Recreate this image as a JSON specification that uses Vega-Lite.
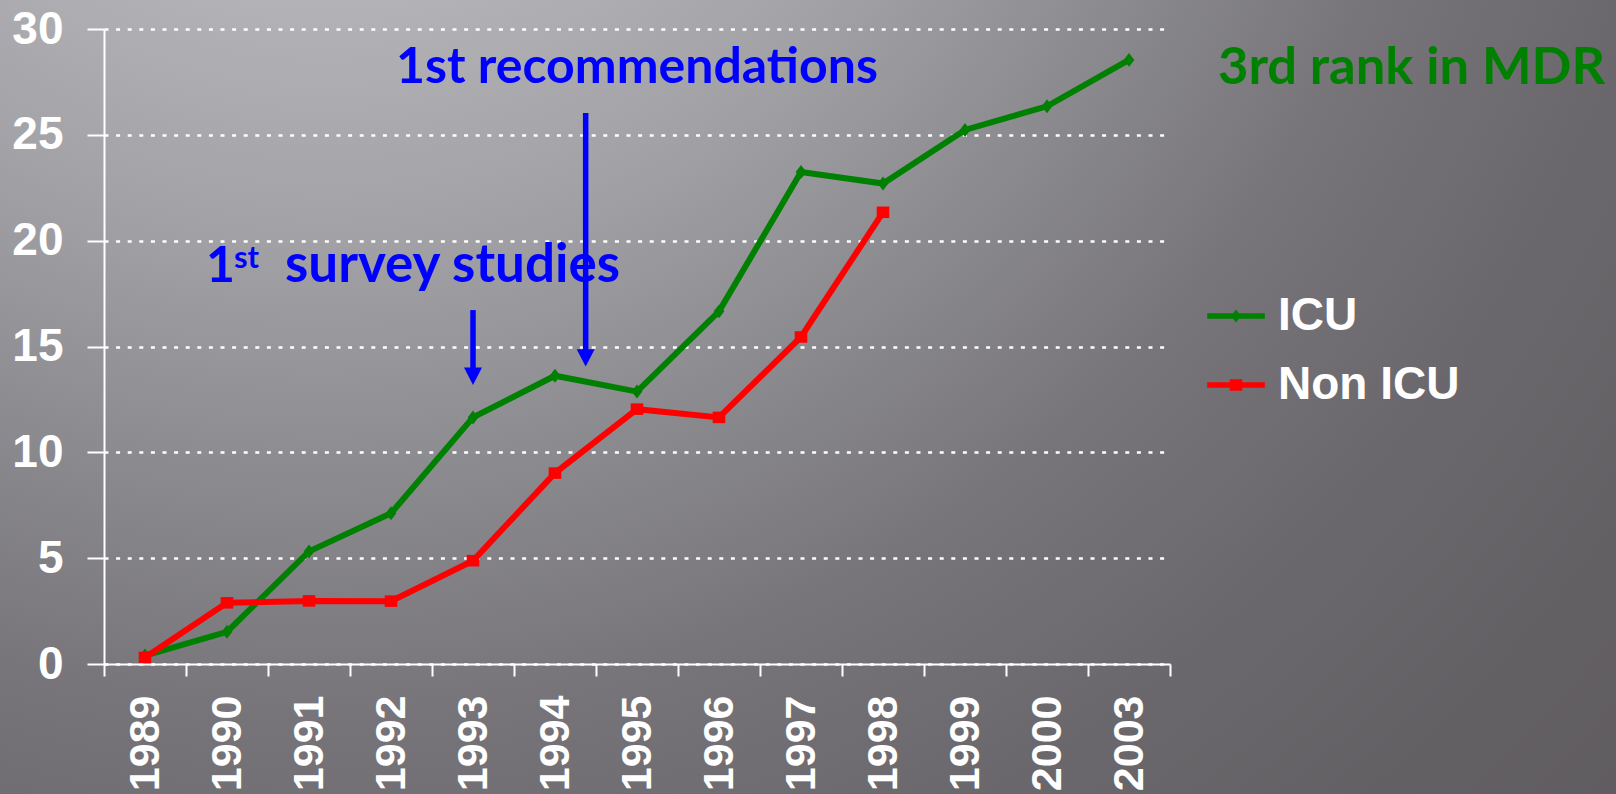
{
  "$schema": "https://vega.github.io/schema/vega-lite/v6.json",
  "width": 1616,
  "height": 794,
  "autosize": {"type": "none"},
  "padding": 0,
  "background": "#6f6c70",
  "view": {
    "stroke": null,
    "fill": {
      "gradient": "radial",
      "x1": 0.2, "y1": 0, "r1": 0,
      "x2": 0.2, "y2": 0, "r2": 1.3,
      "stops": [
        {"offset": 0, "color": "#bfbfc3"},
        {"offset": 0.19, "color": "#b4b4b8"},
        {"offset": 0.31, "color": "#a2a2a6"},
        {"offset": 0.42, "color": "#8c8b90"},
        {"offset": 0.54, "color": "#767479"},
        {"offset": 0.65, "color": "#6b686d"},
        {"offset": 0.77, "color": "#636064"},
        {"offset": 1, "color": "#595458"}
      ]
    }
  },
  "config": {
    "axis": {
      "domainColor": "white",
      "domainWidth": 2,
      "tickColor": "white",
      "tickWidth": 2,
      "labelColor": "white",
      "labelFont": "Liberation Sans",
      "labelFontWeight": "bold",
      "title": null
    }
  },
  "layer": [
    {
      "data": {
        "values": [
          {"year": "1989", "series": "ICU", "value": 0.40},
          {"year": "1990", "series": "ICU", "value": 1.52},
          {"year": "1991", "series": "ICU", "value": 5.32},
          {"year": "1992", "series": "ICU", "value": 7.12},
          {"year": "1993", "series": "ICU", "value": 11.65},
          {"year": "1994", "series": "ICU", "value": 13.62},
          {"year": "1995", "series": "ICU", "value": 12.87},
          {"year": "1996", "series": "ICU", "value": 16.66},
          {"year": "1997", "series": "ICU", "value": 23.24},
          {"year": "1998", "series": "ICU", "value": 22.70},
          {"year": "1999", "series": "ICU", "value": 25.23},
          {"year": "2000", "series": "ICU", "value": 26.35},
          {"year": "2003", "series": "ICU", "value": 28.54},
          {"year": "1989", "series": "Non ICU", "value": 0.31},
          {"year": "1990", "series": "Non ICU", "value": 2.89},
          {"year": "1991", "series": "Non ICU", "value": 2.98},
          {"year": "1992", "series": "Non ICU", "value": 2.97},
          {"year": "1993", "series": "Non ICU", "value": 4.88},
          {"year": "1994", "series": "Non ICU", "value": 9.02},
          {"year": "1995", "series": "Non ICU", "value": 12.04},
          {"year": "1996", "series": "Non ICU", "value": 11.65},
          {"year": "1997", "series": "Non ICU", "value": 15.45},
          {"year": "1998", "series": "Non ICU", "value": 21.34}
        ]
      },
      "encoding": {
        "x": {
          "field": "year",
          "type": "ordinal",
          "bandPosition": 0.5,
          "scale": {"type": "band", "range": [104, 1170], "paddingInner": 0, "paddingOuter": 0},
          "axis": {
            "orient": "bottom",
            "offset": -130,
            "tickBand": "extent",
            "tickSize": 12,
            "labelAngle": 270,
            "labelFontSize": 43,
            "labelPadding": 19,
            "labelOverlap": false,
            "grid": false
          }
        },
        "y": {
          "field": "value",
          "type": "quantitative",
          "scale": {"domain": [0, 30], "range": [664, 29], "nice": false},
          "axis": {
            "orient": "left",
            "offset": -104,
            "values": [0, 5, 10, 15, 20, 25, 30],
            "tickSize": 17,
            "labelFontSize": 46,
            "labelPadding": 24,
            "grid": true,
            "gridColor": "white",
            "gridWidth": 2.7,
            "gridDash": [4, 7.6],
            "gridOpacity": 1
          }
        },
        "color": {
          "field": "series",
          "type": "nominal",
          "scale": {"domain": ["ICU", "Non ICU"], "range": ["#008000", "#ff0000"]},
          "legend": {
            "title": null,
            "orient": "none",
            "legendX": 1206,
            "legendY": 286,
            "padding": 0,
            "rowPadding": 16,
            "symbolSize": 3600,
            "labelOffset": 12,
            "labelLimit": 500,
            "labelFont": "Liberation Sans",
            "labelFontWeight": "bold",
            "labelFontSize": 46,
            "labelColor": "white",
            "labelBaseline": "middle",
            "encode": {
              "symbols": {
                "update": {
                  "shape": {"signal": "datum.value === 'ICU' ? 'M -0.96 -0.09 L -0.098 -0.09 L 0 -0.217 L 0.098 -0.09 L 0.96 -0.09 L 0.96 0.09 L 0.098 0.09 L 0 0.217 L -0.098 0.09 L -0.96 0.09 Z' : 'M -0.96 -0.09 L -0.21 -0.09 L -0.21 -0.195 L 0.21 -0.195 L 0.21 -0.09 L 0.96 -0.09 L 0.96 0.09 L 0.21 0.09 L 0.21 0.195 L -0.21 0.195 L -0.21 0.09 L -0.96 0.09 Z'"},
                  "fill": {"signal": "datum.value === 'ICU' ? '#008000' : '#ff0000'"},
                  "stroke": {"value": "transparent"},
                  "strokeWidth": {"value": 0},
                  "opacity": {"value": 1},
                  "size": {"value": 3600}
                }
              }
            }
          }
        }
      },
      "layer": [
        {"mark": {"type": "line", "strokeWidth": 6}},
        {
          "transform": [{"filter": "datum.series === 'ICU'"}],
          "mark": {"type": "point", "filled": true, "opacity": 1, "size": 115, "shape": "M 0 -1.3 L 1 0 L 0 1.3 L -1 0 Z"}
        },
        {
          "transform": [{"filter": "datum.series === 'Non ICU'"}],
          "mark": {"type": "point", "filled": true, "opacity": 1, "size": 110, "shape": "M -1.2 -1.1 L 1.2 -1.1 L 1.2 1.1 L -1.2 1.1 Z"}
        }
      ]
    },
    {
      "data": {"values": [{"year": "1993", "top": 16.72, "shaftEnd": 13.95, "tip": 13.18}]},
      "layer": [
        {
          "mark": {"type": "rule", "color": "#0000ff", "strokeWidth": 5.5, "strokeCap": "butt"},
          "encoding": {
            "x": {"field": "year", "type": "ordinal", "bandPosition": 0.5},
            "y": {"field": "top", "type": "quantitative"},
            "y2": {"field": "shaftEnd"}
          }
        },
        {
          "mark": {"type": "point", "shape": "M -1 -1.94 L 1 -1.94 L 0 0 Z", "size": 324, "filled": true, "color": "#0000ff", "opacity": 1},
          "encoding": {
            "x": {"field": "year", "type": "ordinal", "bandPosition": 0.5},
            "y": {"field": "tip", "type": "quantitative"}
          }
        }
      ]
    },
    {
      "data": {"values": [{"year": "1994", "top": 26.03, "shaftEnd": 14.8, "tip": 14.05}]},
      "layer": [
        {
          "mark": {"type": "rule", "color": "#0000ff", "strokeWidth": 5.5, "strokeCap": "butt"},
          "encoding": {
            "x": {"field": "year", "type": "ordinal", "bandPosition": 0.874},
            "y": {"field": "top", "type": "quantitative"},
            "y2": {"field": "shaftEnd"}
          }
        },
        {
          "mark": {"type": "point", "shape": "M -1 -1.94 L 1 -1.94 L 0 0 Z", "size": 324, "filled": true, "color": "#0000ff", "opacity": 1},
          "encoding": {
            "x": {"field": "year", "type": "ordinal", "bandPosition": 0.874},
            "y": {"field": "tip", "type": "quantitative"}
          }
        }
      ]
    },
    {
      "data": {"values": [{"year": "1995", "value": 27.45, "label": "1st recommendations"}]},
      "mark": {"type": "text", "font": "Lato", "fontWeight": "bold", "fontSize": 50, "color": "#0000ff", "align": "center", "baseline": "alphabetic"},
      "encoding": {
        "x": {"field": "year", "type": "ordinal", "bandPosition": 0.5},
        "y": {"field": "value", "type": "quantitative"},
        "text": {"field": "label"}
      }
    },
    {
      "data": {"values": [{"year": "1990", "value": 18.05, "label": "1"}]},
      "mark": {"type": "text", "font": "Lato", "fontWeight": "bold", "fontSize": 50, "color": "#0000ff", "align": "left", "baseline": "alphabetic", "dx": -3},
      "encoding": {
        "x": {"field": "year", "type": "ordinal", "bandPosition": 0.28},
        "y": {"field": "value", "type": "quantitative"},
        "text": {"field": "label"}
      }
    },
    {
      "data": {"values": [{"year": "1990", "value": 18.05, "label": "st"}]},
      "mark": {"type": "text", "font": "Lato", "fontWeight": "bold", "fontSize": 31, "color": "#0000ff", "align": "left", "baseline": "alphabetic", "dx": 25, "dy": -14},
      "encoding": {
        "x": {"field": "year", "type": "ordinal", "bandPosition": 0.28},
        "y": {"field": "value", "type": "quantitative"},
        "text": {"field": "label"}
      }
    },
    {
      "data": {"values": [{"year": "1990", "value": 18.05, "label": "survey studies"}]},
      "mark": {"type": "text", "font": "Lato", "fontWeight": "bold", "fontSize": 53, "color": "#0000ff", "align": "left", "baseline": "alphabetic", "dx": 76},
      "encoding": {
        "x": {"field": "year", "type": "ordinal", "bandPosition": 0.28},
        "y": {"field": "value", "type": "quantitative"},
        "text": {"field": "label"}
      }
    },
    {
      "data": {"values": [{"year": "2003", "value": 27.4, "label": "3rd rank in MDR"}]},
      "mark": {"type": "text", "font": "Lato", "fontWeight": "bold", "fontSize": 52.5, "color": "#008000", "align": "left", "baseline": "alphabetic", "dx": 48},
      "encoding": {
        "x": {"field": "year", "type": "ordinal", "bandPosition": 1},
        "y": {"field": "value", "type": "quantitative"},
        "text": {"field": "label"}
      }
    }
  ]
}
